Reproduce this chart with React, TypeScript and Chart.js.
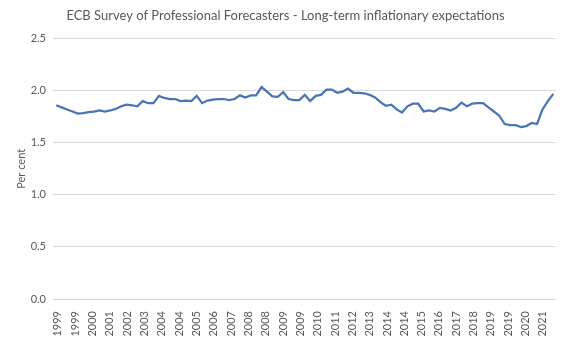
import React, { useEffect, useRef } from "react";
import { Chart, registerables } from "chart.js";

Chart.register(...registerables);

const TITLE = "ECB Survey of Professional Forecasters - Long-term inflationary expectations";
const Y_TITLE = "Per cent";

// 1999Q1 .. 2022Q1 survey rounds (93)
const startYear = 1999;
const categories: string[] = [];
for (let y = startYear; y <= 2022; y++) {
  for (let q = 1; q <= 4; q++) {
    if (y === 2022 && q > 1) break;
    categories.push(`${y}Q${q}`);
  }
}

const expectations: number[] = [
  1.86, 1.84, 1.82, 1.80, 1.78, 1.785, 1.795, 1.80, 1.81, 1.80,
  1.81, 1.825, 1.85, 1.865, 1.86, 1.85, 1.90, 1.88, 1.88, 1.95,
  1.93, 1.92, 1.92, 1.90, 1.905, 1.90, 1.95, 1.88, 1.905, 1.915,
  1.92, 1.92, 1.91, 1.92, 1.955, 1.935, 1.955, 1.955, 2.035, 1.99,
  1.945, 1.94, 1.985, 1.92, 1.91, 1.91, 1.96, 1.90, 1.95, 1.96,
  2.01, 2.01, 1.98, 1.99, 2.02, 1.98, 1.98, 1.975, 1.96, 1.935,
  1.89, 1.855, 1.865, 1.82, 1.79, 1.85, 1.875, 1.875, 1.80, 1.81,
  1.80, 1.835, 1.825, 1.81, 1.835, 1.885, 1.85, 1.875, 1.88, 1.88,
  1.84, 1.80, 1.76, 1.68, 1.67, 1.67, 1.65, 1.66, 1.69, 1.68,
  1.82, 1.90, 1.97,
];

const tickLabels: string[] = [
  "1999", "1999", "2000", "2001", "2002", "2003", "2004", "2004", "2005", "2006",
  "2007", "2008", "2008", "2009", "2009", "2010", "2011", "2012", "2013", "2014",
  "2014", "2015", "2016", "2017", "2018", "2019", "2019", "2020", "2021",
];

const yTicks: number[] = [0, 0.5, 1.0, 1.5, 2.0, 2.5];

const FONT = "Lato, 'Open Sans', sans-serif";
const TEXT = "#595959";

export default function App() {
  const ref = useRef<HTMLCanvasElement | null>(null);

  useEffect(() => {
    if (!ref.current) return;
    const labelFirst = 0.28;
    const labelStep = 3.207;
    const chart = new Chart(ref.current, {
      type: "line",
      data: {
        datasets: [
          {
            label: "Long-term inflation expectations",
            data: expectations.map((v, i) => ({ x: i, y: v })),
            borderColor: "#4a75b5",
            borderWidth: 2.25,
            pointRadius: 0,
            tension: 0,
            fill: false,
          },
        ],
      },
      options: {
        animation: false,
        responsive: false,
        maintainAspectRatio: false,
        layout: { padding: { left: 15, right: 9, top: 0, bottom: 0 } },
        plugins: {
          legend: { display: false },
          tooltip: { enabled: false },
          title: {
            display: true,
            text: TITLE,
            color: TEXT,
            font: { family: FONT, size: 13, weight: "normal" },
            padding: { top: 8, bottom: 15 },
          },
        },
        scales: {
          x: {
            type: "linear",
            min: -0.6,
            max: 92.5,
            grid: { display: false },
            border: { display: false },
            afterBuildTicks: (scale: any) => {
              scale.ticks = tickLabels.map((_, i) => ({ value: labelFirst + i * labelStep }));
            },
            afterFit: (scale: any) => {
              scale.height = 40;
            },
            ticks: {
              autoSkip: false,
              minRotation: 90,
              maxRotation: 90,
              padding: 4,
              color: TEXT,
              font: { family: FONT, size: 11 },
              callback: (_v: any, index: number) => tickLabels[index],
            },
          },
          y: {
            min: 0,
            max: 2.5,
            afterBuildTicks: (scale: any) => {
              scale.ticks = yTicks.map((v) => ({ value: v }));
            },
            afterFit: (scale: any) => {
              scale.width = 38;
            },
            grid: { color: "#d9d9d9", drawTicks: false, lineWidth: 1 },
            border: { display: false },
            ticks: {
              padding: 7,
              color: TEXT,
              font: { family: FONT, size: 11 },
              callback: (v: any) => Number(v).toFixed(1),
            },
            title: {
              display: true,
              text: Y_TITLE,
              color: TEXT,
              font: { family: FONT, size: 11 },
              padding: { top: 0, bottom: 4 },
            },
          },
        },
      },
    });
    return () => chart.destroy();
  }, []);

  return (
    <div style={{ position: "fixed", left: 0, top: 0, width: 565, height: 339, background: "#fff" }}>
      <canvas ref={ref} width={565} height={339} style={{ display: "block" }} />
    </div>
  );
}
